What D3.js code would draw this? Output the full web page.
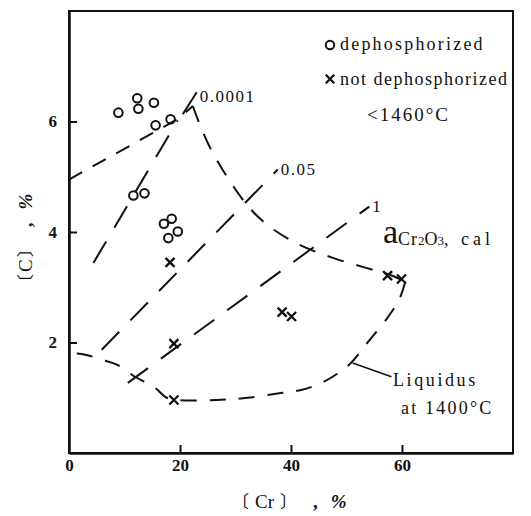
<!DOCTYPE html>
<html><head><meta charset="utf-8">
<script src="https://cdn.jsdelivr.net/npm/d3@7"></script>
<style>
body{margin:0;background:#fff;}
text{font-family:"Liberation Serif","DejaVu Serif",serif;fill:#111;}
</style></head>
<body><svg id="c" width="531" height="516"></svg>
<script>
// ---- data ----
const dephosCr = [8.9, 12.3, 12.5, 15.3, 15.6, 18.3, 11.6, 13.6, 17.1, 18.5, 17.9, 19.6];
const dephosC  = [6.16, 6.42, 6.23, 6.34, 5.93, 6.04, 4.66, 4.70, 4.15, 4.24, 3.89, 4.01];
const notDephosCr = [18.2, 18.9, 18.9, 38.4, 40.1, 57.4, 59.9];
const notDephosC  = [3.45, 1.98, 0.96, 2.55, 2.47, 3.21, 3.15];
// liquidus at 1400C: upper-left branch, upper-right branch, lower branch
const liqLeftCr = [0, 15.8, 20.0, 22.3];
const liqLeftC  = [4.95, 5.83, 6.07, 6.28];
const liqUpperCr = [22.3, 25.4, 31.6, 35.6, 41.5, 47.3, 53.2, 57.7, 60.6];
const liqUpperC  = [6.28, 5.53, 4.55, 4.14, 3.77, 3.54, 3.36, 3.23, 3.10];
const liqLowerCr = [60.6, 59.5, 57.4, 53.8, 50.5, 47.5, 44.6, 41.8, 38.5, 32.2, 26.6, 19.6, 17.6, 15.5, 11.9, 8.6, 5.9, 2.9, 0];
const liqLowerC  = [3.10, 2.78, 2.45, 2.00, 1.60, 1.38, 1.23, 1.14, 1.09, 1.00, 0.96, 0.96, 1.00, 1.18, 1.38, 1.60, 1.69, 1.78, 1.81];
// iso-activity lines a(Cr2O3, cal)
const isoLabels = ["0.0001", "0.05", "1"];
const isoCr = [[4.4, 19.6], [5.9, 37.6], [10.6, 54.1]];
const isoC  = [[3.44, 6.02], [1.87, 5.13], [1.27, 4.46]];
const leaderACr = [20.5, 23.0];
const leaderAC  = [6.13, 6.53];
const liqLeaderCr = [51.1, 58.1];
const liqLeaderC  = [1.63, 1.38];
const xTicks = [0, 20, 40, 60];
const yTicks = [2, 4, 6];

// ---- scales ----
const svg = d3.select("#c");
const L = 69, R = 513, T = 11, B = 453;
const x = d3.scaleLinear().domain([0, 80]).range([L, R]);
const y = d3.scaleLinear().domain([0, 8]).range([B, T]);
const pts = (xs, ys) => xs.map((v, i) => [x(v), y(ys[i])]);

// frame
svg.append("rect").attr("x", L).attr("y", T).attr("width", R - L).attr("height", B - T)
  .attr("fill", "none").attr("stroke", "#111").attr("stroke-width", 2);

// axes
const xAxis = d3.axisBottom(x).tickValues(xTicks).tickSizeInner(-8).tickSizeOuter(0).tickPadding(6).tickFormat(d3.format("d"));
const yAxis = d3.axisLeft(y).tickValues(yTicks).tickSizeInner(-8).tickSizeOuter(0).tickPadding(12).tickFormat(d3.format("d"));
const gx = svg.append("g").attr("transform", `translate(0,${B})`).call(xAxis);
const gy = svg.append("g").attr("transform", `translate(${L},0)`).call(yAxis);
[gx, gy].forEach(g => {
  g.select(".domain").attr("stroke", "#111").attr("stroke-width", 2.5);
  g.selectAll(".tick line").attr("stroke", "#111").attr("stroke-width", 2);
  g.selectAll(".tick text").attr("font-family", "Liberation Serif, serif").attr("font-size", 17).attr("font-weight", "bold").attr("fill", "#111");
});
gx.selectAll(".tick").filter(d => d === 0).select("line").remove();

// axis titles
function title(sel, inner, pad, gap1, gap2) {
  sel.append("tspan").attr("font-family", "Noto Sans CJK JP").attr("font-size", 17).text("〔");
  sel.append("tspan").attr("dx", pad).text(inner);
  sel.append("tspan").attr("dx", pad).attr("font-family", "Noto Sans CJK JP").attr("font-size", 17).text("〕");
  sel.append("tspan").attr("dx", gap1).attr("font-weight", "bold").text(",");
  sel.append("tspan").attr("dx", gap2).attr("font-style", "italic").attr("font-weight", "bold").text("%");
}
const xt = svg.append("text").attr("x", 232).attr("y", 508).attr("font-size", 19);
title(xt, "Cr", 6, 16, 13);
const yt = svg.append("text").attr("transform", "translate(32,291) rotate(-90)").attr("font-size", 19);
title(yt, "C", 2, 13, 13);

// lines
const line = d3.line();
const curve = d3.line().curve(d3.curveCatmullRom.alpha(0.5));
const dashStyle = sel => sel.attr("fill", "none").attr("stroke", "#111").attr("stroke-width", 2);
svg.append("path").attr("d", line(pts(liqLeftCr, liqLeftC))).call(dashStyle).attr("stroke-dasharray", "15,12");
svg.append("path").attr("d", curve(pts(liqUpperCr, liqUpperC))).call(dashStyle).attr("stroke-dasharray", "17,13");
svg.append("path").attr("d", curve(pts(liqLowerCr, liqLowerC))).call(dashStyle).attr("stroke-dasharray", "16,13");
isoCr.forEach((xs, i) => {
  svg.append("path").attr("d", line(pts(xs, isoC[i]))).call(dashStyle).attr("stroke-dasharray", "25,16");
});
svg.append("path").attr("d", line(pts(leaderACr, leaderAC))).call(dashStyle);
svg.append("path").attr("d", line(pts(liqLeaderCr, liqLeaderC))).attr("fill", "none").attr("stroke", "#111").attr("stroke-width", 1.5);

// iso labels
const isoLabelPos = [[x(23.2), y(6.45)], [x(37.8), y(5.12)], [x(54.3), y(4.45)]];
isoLabels.forEach((t, i) => {
  svg.append("text").attr("x", isoLabelPos[i][0] + 2).attr("y", isoLabelPos[i][1] + 5)
    .attr("font-size", 17).attr("letter-spacing", 1.5).text(t);
});

// markers
svg.append("g").selectAll("circle").data(pts(dephosCr, dephosC)).join("circle")
  .attr("cx", d => d[0]).attr("cy", d => d[1]).attr("r", 4.3)
  .attr("fill", "none").attr("stroke", "#111").attr("stroke-width", 2);
const crossPath = ([cx, cy], s = 4.5) => `M${cx - s},${cy - s}L${cx + s},${cy + s}M${cx - s},${cy + s}L${cx + s},${cy - s}`;
svg.append("g").selectAll("path").data(pts(notDephosCr, notDephosC)).join("path")
  .attr("d", d => crossPath(d)).attr("stroke", "#111").attr("stroke-width", 2.3).attr("fill", "none");

// legend
svg.append("circle").attr("cx", 330).attr("cy", 45).attr("r", 4.2).attr("fill", "none").attr("stroke", "#111").attr("stroke-width", 2);
svg.append("path").attr("d", crossPath([330, 79], 4.2)).attr("stroke", "#111").attr("stroke-width", 2.3);
svg.append("text").attr("x", 340).attr("y", 50).attr("font-size", 18).attr("letter-spacing", 2.2).text("dephosphorized");
svg.append("text").attr("x", 340).attr("y", 85).attr("font-size", 18).attr("letter-spacing", 1.5).text("not dephosphorized");
svg.append("text").attr("x", 367).attr("y", 121).attr("font-size", 19).attr("letter-spacing", 2).text("<1460°C");

// a Cr2O3, cal
const a = svg.append("text").attr("x", 383).attr("y", 243);
a.append("tspan").attr("font-size", 34).text("a");
a.append("tspan").attr("font-size", 18).attr("dy", 2).attr("letter-spacing", 1).text("Cr");
a.append("tspan").attr("font-size", 13).text("2");
a.append("tspan").attr("font-size", 18).text("O");
a.append("tspan").attr("font-size", 13).text("3");
a.append("tspan").attr("font-size", 18).attr("letter-spacing", 4).text(", cal");

// liquidus label
svg.append("text").attr("x", 393).attr("y", 386).attr("font-size", 18).attr("letter-spacing", 2.6).text("Liquidus");
svg.append("text").attr("x", 401).attr("y", 414).attr("font-size", 18).attr("letter-spacing", 2.2).text("at 1400°C");
</script></body></html>
